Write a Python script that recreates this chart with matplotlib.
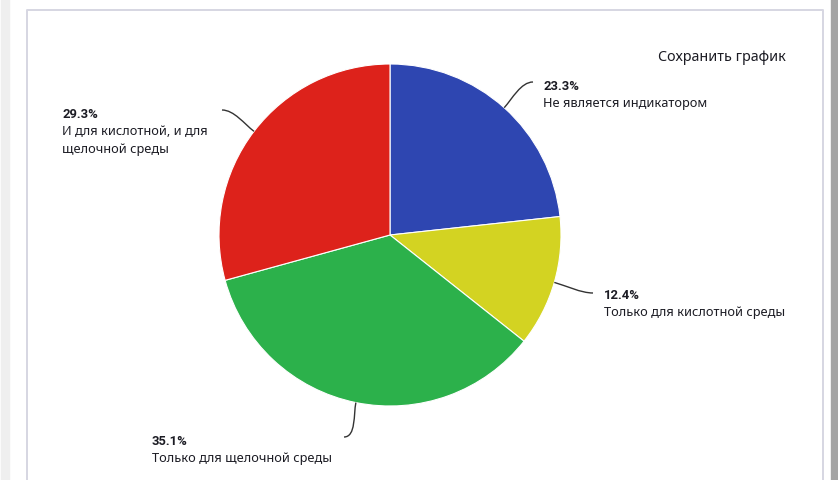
import numpy as np
import matplotlib.pyplot as plt
from matplotlib.patches import Rectangle, PathPatch
from matplotlib.path import Path

plt.rcParams['font.family'] = ['Noto Sans', 'DejaVu Sans']

# доли индикаторов по типу среды (по часовой стрелке от 12 часов)
shares = [23.3, 12.4, 35.1, 29.3]
labels = ['Не является индикатором',
          'Только для кислотной среды',
          'Только для щелочной среды',
          'И для кислотной, и для\nщелочной среды']
colors = ['#2e46b1', '#d3d322', '#2cb14b', '#dd221b']

# куда ставить подписи: левый край текста и базовая линия процента
label_pos = [(543, 90), (604, 299), (152, 445), (62, 118)]
# концы выносных линий
leader_end = [(533, 83), (593, 294), (344, 438), (222, 111)]

W, H = 838, 481
cx, cy, r = 390, 236, 171
txt_color = '#1c1c24'

fig = plt.figure(figsize=(W / 100, H / 100), dpi=100)
ax = fig.add_axes([0, 0, 1, 1])

# фон страницы и рамка панели
ax.add_patch(Rectangle((0, 0), W, H, color='white', zorder=0))
ax.add_patch(Rectangle((1, 0), 8, H, color='#efefef', zorder=0))
ax.add_patch(Rectangle((831, 0), 7, H, color='#a4a4a4', zorder=0))
ax.plot([26.5, 26.5, 822.5, 822.5], [H, 10.5, 10.5, H],
        color='#d6d6e2', lw=1.4, zorder=1)

# y вниз, поэтому startangle=-90 даёт 12 часов, а counterclock идёт по часовой
wedges, _ = ax.pie(shares, colors=colors, startangle=-90, counterclock=True,
                   center=(cx, cy), radius=r,
                   wedgeprops=dict(edgecolor='white', linewidth=0.8))

total = sum(shares)
start = -90.0
for i, (val, lab) in enumerate(zip(shares, labels)):
    mid = np.deg2rad(start + 360 * val / total / 2)
    start += 360 * val / total
    dx, dy = np.cos(mid), np.sin(mid)
    p0 = (cx + r * dx, cy + r * dy)
    p3 = leader_end[i]
    p1 = (p0[0] + 12 * dx, p0[1] + 12 * dy)
    side = 1 if p3[0] > p0[0] else -1
    p2 = (p3[0] - side * 12, p3[1])
    path = Path([p0, p1, p2, p3],
                [Path.MOVETO, Path.CURVE4, Path.CURVE4, Path.CURVE4])
    ax.add_patch(PathPatch(path, fill=False, edgecolor='#333333',
                           lw=1.0, zorder=3))

    tx, ty = label_pos[i]
    ax.text(tx, ty, f'{val}%', fontsize=9.4, fontweight='bold',
            family=['Roboto', 'DejaVu Sans'],
            color=txt_color, va='baseline', ha='left')
    for k, line in enumerate(lab.split('\n')):
        ax.text(tx, ty + 17.5 * (k + 1), line, fontsize=9.2,
                color=txt_color, va='baseline', ha='left')

ax.text(786, 61, 'Сохранить график', fontsize=10.3, color=txt_color,
        va='baseline', ha='right')

ax.set_xlim(0, W)
ax.set_ylim(H, 0)
ax.set_aspect('equal')
ax.axis('off')

fig.savefig('out.png', dpi=100)
